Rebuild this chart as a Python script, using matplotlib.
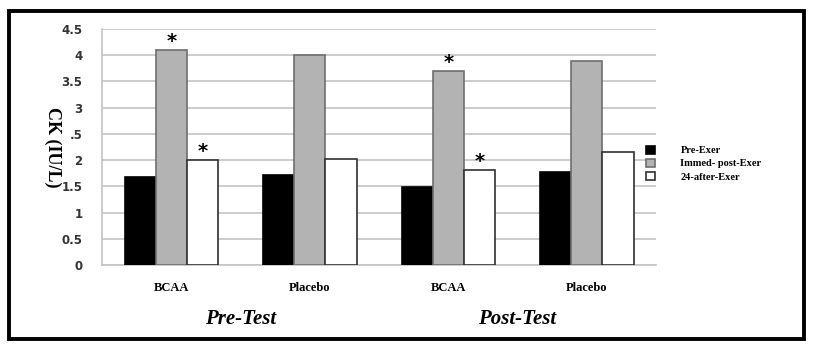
import numpy as np
import matplotlib.pyplot as plt
from matplotlib.patches import Rectangle

# data
groups = ['BCAA', 'Placebo', 'BCAA', 'Placebo']
phases = ['Pre-Test', 'Post-Test']
series = ['Pre-Exer', 'Immed- post-Exer', '24-after-Exer']
pre_exer = [1.67, 1.72, 1.48, 1.77]
immed_post = [4.10, 4.00, 3.70, 3.89]
after_24 = [2.01, 2.03, 1.81, 2.15]
# significance marks: (group index, series index)
stars = [(0, 1), (0, 2), (2, 1), (2, 2)]
yticks = [0, 0.5, 1, 1.5, 2, 2.5, 3, 3.5, 4, 4.5]
ytick_labels = ['0', '0.5', '1', '1.5', '2', '.5', '3', '3.5', '4', '4.5']

fig = plt.figure(figsize=(8.14, 3.47), dpi=100)
ax = fig.add_axes([0.1253, 0.2363, 0.6807, 0.6801])

serif = 'Liberation Serif'
x = np.arange(len(groups))
w = 0.225
faces = ['black', '#b3b3b3', 'white']
edges = ['black', '#6e6e6e', '#303030']
vals = [pre_exer, immed_post, after_24]
for i, v in enumerate(vals):
    ax.bar(x + (i - 1) * w, v, w, color=faces[i], edgecolor=edges[i],
           linewidth=1.2, label=series[i], zorder=3)

for g, s in stars:
    ax.text(x[g] + (s - 1) * w, vals[s][g] - 0.02, '*', ha='center', va='bottom',
            fontsize=14, family='DejaVu Sans', fontweight='bold')

ax.set_xlim(-0.5, 3.5)
ax.set_ylim(0, 4.5)
ax.set_yticks(yticks)
ax.set_yticklabels(ytick_labels)
ax.yaxis.grid(True, color='#c4c4c4', linewidth=1.2, zorder=0)
ax.set_axisbelow(True)
for sp in ['top', 'right']:
    ax.spines[sp].set_visible(False)
ax.spines['left'].set_color('#c4c4c4')
ax.spines['bottom'].set_color('#c4c4c4')
ax.spines['left'].set_linewidth(1.2)
ax.spines['bottom'].set_linewidth(1.2)
ax.tick_params(axis='y', length=0, pad=14, labelsize=8.5, labelcolor='#333333')
ax.tick_params(axis='x', length=0, pad=12)
for t in ax.get_yticklabels():
    t.set_fontweight('bold')
ax.set_xticks(x)
ax.set_xticklabels(groups, family=serif, fontweight='bold', fontsize=9)

ax.set_ylabel('CK (IU/L)', family=serif, fontweight='bold', fontsize=13,
              rotation=270, labelpad=8)
ax.yaxis.set_label_coords(-0.105, 0.5)

for i, p in enumerate(phases):
    ax.text(0.5 + 2 * i, -0.23, p, transform=ax.get_xaxis_transform(),
            ha='center', va='center', family=serif, fontweight='bold',
            style='italic', fontsize=15)

leg = ax.legend(loc='center left', bbox_to_anchor=(0.965, 0.43), frameon=False,
                prop={'family': serif, 'weight': 'bold', 'size': 7.5},
                handlelength=0.9, handleheight=0.9, labelspacing=0.3,
                handletextpad=2.4)

# outer frame
fig.add_artist(Rectangle((0.011, 0.024), 0.977, 0.945, transform=fig.transFigure,
                         fill=False, edgecolor='black', linewidth=2.8))

fig.savefig('out.png', dpi=100)
